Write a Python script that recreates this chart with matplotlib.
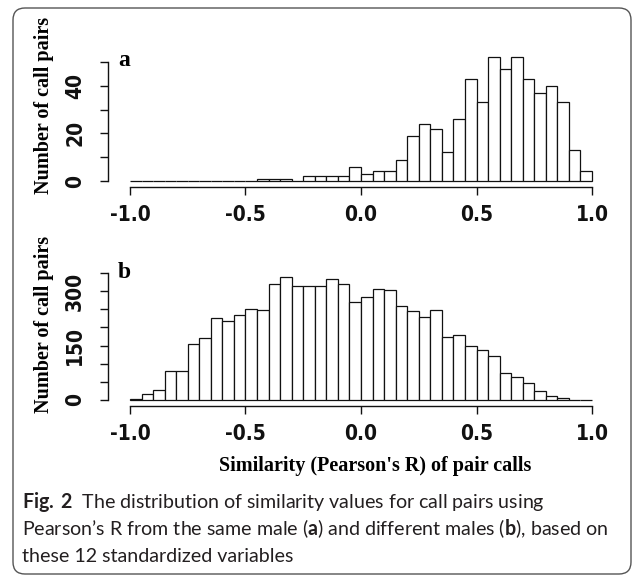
import matplotlib
matplotlib.use("Agg")
import matplotlib.pyplot as plt
import numpy as np
from matplotlib import font_manager
from matplotlib.font_manager import FontProperties
from matplotlib.patches import FancyBboxPatch
from matplotlib.transforms import IdentityTransform

# histogram data: 40 bins of width 0.05 from -1 to 1
bin_edges = np.linspace(-1.0, 1.0, 41)
same_male = [0, 0, 0, 0, 0, 0, 0, 0, 0, 0,
             0, 1, 1, 1, 0, 2, 2, 2, 2, 6,
             3, 4, 4, 9, 19, 24, 22, 12, 26, 43,
             33, 52, 47, 52, 43, 37, 40, 33, 13, 4]
diff_males = [2, 17, 28, 80, 80, 155, 170, 225, 217, 233,
              251, 248, 319, 340, 313, 313, 313, 333, 319, 270,
              285, 307, 304, 259, 245, 229, 248, 174, 178, 148,
              137, 121, 74, 63, 47, 25, 11, 6, 0, 0]

x_ticks = [-1.0, -0.5, 0.0, 0.5, 1.0]
x_tick_labels = ["-1.0", "-0.5", "0.0", "0.5", "1.0"]
a_ticks = [0, 10, 20, 30, 40, 50]
a_tick_labels = ["0", "", "20", "", "40", ""]
b_ticks = [0, 50, 100, 150, 200, 250, 300, 350]
b_tick_labels = ["0", "", "", "150", "", "", "300", ""]

# look for a narrow bold sans for the R tick labels
fnames = [f.fname for f in font_manager.fontManager.ttflist]
tick_fp = None
for pat in ["LiberationSansNarrow-Bold.", "ArialNarrow", "DejaVuSansCondensed-Bold.",
            "RobotoCondensed-Bold.", "OpenSans_Condensed-Bold.", "OpenSansCondensed-Bold."]:
    hits = [f for f in fnames if pat in f]
    if hits:
        tick_fp = FontProperties(fname=hits[0], size=15)
        break
if tick_fp is None:
    tick_fp = FontProperties(family="Liberation Sans", weight="bold", size=14)

installed = {f.name for f in font_manager.fontManager.ttflist}
SERIF = "Liberation Serif"
CAPTION_FONT = "Lato" if "Lato" in installed else "DejaVu Sans"

plt.rcParams["mathtext.fontset"] = "custom"
plt.rcParams["mathtext.rm"] = CAPTION_FONT
plt.rcParams["mathtext.bf"] = CAPTION_FONT + ":bold"

W, H = 634, 578
fig = plt.figure(figsize=(W / 100, H / 100), dpi=100)
fig.patch.set_facecolor("white")

X_LO, X_HI = -1.0952, 1.0346


def draw_panel(ax, counts, ticks, tick_labels, ytop):
    widths = np.diff(bin_edges)
    ax.bar(bin_edges[:-1], counts, width=widths, align="edge",
           color="white", edgecolor="#111111", linewidth=0.9, clip_on=False)
    ax.set_xlim(X_LO, X_HI)
    ax.set_ylim(0, ytop)
    for s in ["top", "right"]:
        ax.spines[s].set_visible(False)
    ax.spines["bottom"].set_position(("outward", 4.5))
    ax.spines["bottom"].set_bounds(-1, 1)
    ax.spines["left"].set_bounds(ticks[0], ticks[-1])
    for s in ["bottom", "left"]:
        ax.spines[s].set_linewidth(1.0)
        ax.spines[s].set_color("#111111")
    ax.set_xticks(x_ticks)
    ax.set_xticklabels(x_tick_labels)
    ax.set_yticks(ticks)
    ax.set_yticklabels(tick_labels)
    ax.tick_params(axis="x", length=5.5, width=1.0, color="#111111", pad=7)
    ax.tick_params(axis="y", length=5.5, width=1.0, color="#111111", pad=11)
    for lab in ax.get_xticklabels() + ax.get_yticklabels():
        lab.set_fontproperties(tick_fp)
        lab.set_color("#111111")
    for lab in ax.get_yticklabels():
        lab.set_rotation(90)
        lab.set_va("center")
    ax.patch.set_alpha(0)


ax_a = fig.add_axes([108 / W, 1 - 181 / H, 492 / W, 128.5 / H])
draw_panel(ax_a, same_male, a_ticks, a_tick_labels, 54)

ax_b = fig.add_axes([108 / W, 1 - 400 / H, 492 / W, 130.7 / H])
draw_panel(ax_b, diff_males, b_ticks, b_tick_labels, 360)

# panel letters and axis titles (R style, Times bold)
fig.text(118 / W, 1 - 66 / H, "a", family=SERIF, weight="bold", fontsize=17, va="baseline")
fig.text(118 / W, 1 - 278 / H, "b", family=SERIF, weight="bold", fontsize=17, va="baseline")
for yc in [105, 324]:
    fig.text(44 / W, 1 - yc / H, "Number of call pairs", family=SERIF, weight="bold",
             fontsize=14.5, rotation=90, ha="center", va="center")
fig.text(375 / W, 1 - 466 / H, "Similarity (Pearson's R) of pair calls", family=SERIF,
         weight="bold", fontsize=14.5, ha="center", va="center")

# caption
caption = [
    r"$\mathbf{Fig.\,2}$  The distribution of similarity values for call pairs using",
    r"Pearson’s R from the same male ($\mathbf{a}$) and different males ($\mathbf{b}$), based on",
    "these 12 standardized variables",
]
baselines = [508, 535, 562]
cap_texts = [fig.text(22 / W, 1 - yb / H, s, family=CAPTION_FONT, fontsize=12,
                      color="#231f20", va="baseline") for s, yb in zip(caption, baselines)]
renderer = fig.canvas.get_renderer()
w2 = cap_texts[1].get_window_extent(renderer=renderer).width
size = 12 * 586 / w2
for t in cap_texts:
    t.set_fontsize(size)

# rounded frame around the figure
frame = FancyBboxPatch((13, H - 574), 618, 566, boxstyle="round,pad=0,rounding_size=12",
                       transform=IdentityTransform(), fill=False, edgecolor="#555555",
                       linewidth=1.0)
fig.add_artist(frame)

fig.savefig("out.png", dpi=100)
